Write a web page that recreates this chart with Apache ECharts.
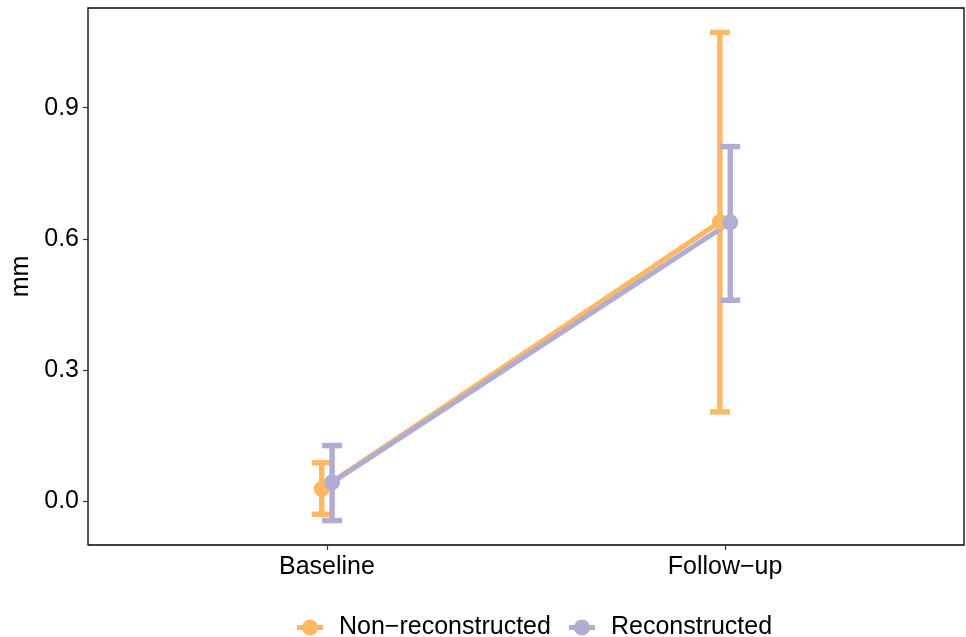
<!DOCTYPE html>
<html>
<head>
<meta charset="utf-8">
<script src="https://cdn.jsdelivr.net/npm/echarts@6/dist/echarts.min.js"></script>
<style>html,body{margin:0;padding:0;background:#fff}#main{width:966px;height:637px}</style>
</head>
<body>
<div id="main"></div>
<script>
// categories and groups
const categories = ['Baseline', 'Follow−up'];
const groupNames = ['Non−reconstructed', 'Reconstructed'];
const groupColors = ['#FDB863', '#B2ABD2'];

// means and error bar limits
const nonMean = [0.029, 0.639];
const nonLow = [-0.029, 0.205];
const nonHigh = [0.0885, 1.072];
const recMean = [0.044, 0.638];
const recLow = [-0.0435, 0.460];
const recHigh = [0.128, 0.811];

const yTicks = [0, 0.3, 0.6, 0.9];

const FONT = 'Liberation Sans, Arial, sans-serif';
const DODGE = 0.026;   // total dodge width (category units)
const CAP = 0.05;      // errorbar cap width (category units)

const allLow = nonLow.concat(recLow);
const allHigh = nonHigh.concat(recHigh);
const yMin = Math.min(...allLow), yMax = Math.max(...allHigh);
const pad = (yMax - yMin) * 0.05;

function pts(vals, shift) { return vals.map((v, i) => [i + 1 + shift, v]); }
function bars(low, high, shift) { return low.map((l, i) => [i + 1 + shift, l, high[i]]); }

function renderErrorBar(params, api) {
  const x = api.value(0);
  const lo = api.coord([x, api.value(1)]);
  const hi = api.coord([x, api.value(2)]);
  const half = api.size([CAP, 0])[0] / 2;
  const st = () => ({ stroke: api.visual('color'), lineWidth: 5.5, lineCap: 'butt' });
  return {
    type: 'group',
    children: [
      { type: 'line', shape: { x1: lo[0], y1: lo[1], x2: hi[0], y2: hi[1] }, style: st() },
      { type: 'line', shape: { x1: hi[0] - half, y1: hi[1], x2: hi[0] + half, y2: hi[1] }, style: st() },
      { type: 'line', shape: { x1: lo[0] - half, y1: lo[1], x2: lo[0] + half, y2: lo[1] }, style: st() }
    ]
  };
}

const legendIcon = 'path://M0,5.5 h26 v5 h-26 z M5,8 a8,8 0 1,1 16,0 a8,8 0 1,1 -16,0 z';

const groupsData = [
  { mean: nonMean, low: nonLow, high: nonHigh, shift: -DODGE / 2 },
  { mean: recMean, low: recLow, high: recHigh, shift: DODGE / 2 }
];

const series = [];
groupsData.forEach((g, k) => {
  series.push({
    name: groupNames[k], type: 'custom', color: groupColors[k],
    renderItem: renderErrorBar, data: bars(g.low, g.high, g.shift), z: 2
  });
});
groupsData.forEach((g, k) => {
  series.push({
    name: groupNames[k], type: 'line', color: groupColors[k],
    data: pts(g.mean, g.shift), showSymbol: false,
    lineStyle: { width: 5, color: groupColors[k] }, z: 3
  });
});
groupsData.forEach((g, k) => {
  series.push({
    name: groupNames[k], type: 'scatter', color: groupColors[k],
    data: pts(g.mean, g.shift), symbolSize: 16,
    itemStyle: { color: groupColors[k], opacity: 1 }, z: 4
  });
});

const chart = echarts.init(document.getElementById('main'));
chart.setOption({
  animation: false,
  textStyle: { fontFamily: FONT },
  grid: {
    left: 88, right: 2, top: 8, bottom: 92,
    show: true, borderColor: '#000', borderWidth: 1.3, backgroundColor: 'transparent'
  },
  xAxis: {
    type: 'value', min: 0.4, max: 2.6,
    axisLine: { show: false, onZero: false },
    splitLine: { show: false },
    axisTick: { show: true, customValues: [1, 2], length: 5, lineStyle: { color: '#333', width: 1.2 } },
    axisLabel: {
      customValues: [1, 2], margin: 10, color: '#000', fontSize: 25, fontFamily: FONT,
      formatter: v => categories[Math.round(v) - 1]
    }
  },
  yAxis: {
    type: 'value', min: yMin - pad, max: yMax + pad,
    name: 'mm', nameLocation: 'middle', nameGap: 51,
    nameTextStyle: { color: '#000', fontSize: 25, fontFamily: FONT },
    axisLine: { show: false, onZero: false },
    splitLine: { show: false },
    axisTick: { show: true, customValues: yTicks, length: 5, lineStyle: { color: '#333', width: 1.2 } },
    axisLabel: {
      customValues: yTicks, margin: 9, color: '#000', fontSize: 25, fontFamily: FONT,
      formatter: v => v.toFixed(1)
    }
  },
  legend: {
    left: 297, top: 615, padding: 0, itemWidth: 26, itemHeight: 16, itemGap: 18,
    textStyle: { color: '#000', fontSize: 25, fontFamily: FONT, padding: [0, 0, 0, 11] },
    data: groupNames.map((n, k) => ({ name: n, icon: legendIcon, itemStyle: { color: groupColors[k] } }))
  },
  series: series
});
</script>
</body>
</html>
